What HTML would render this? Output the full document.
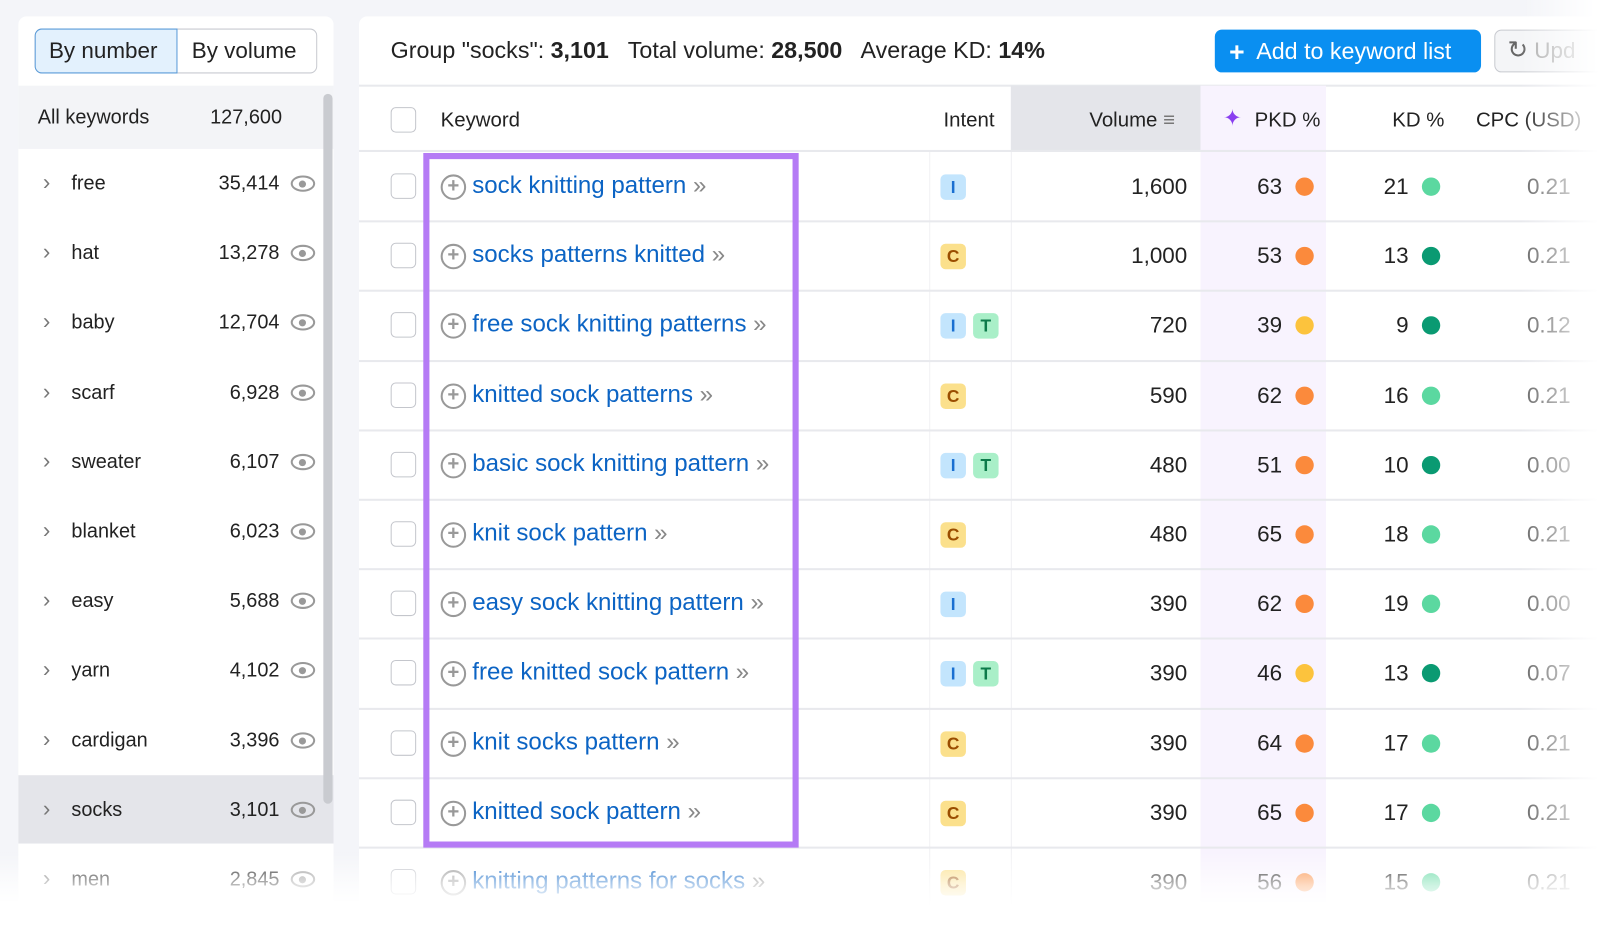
<!DOCTYPE html>
<html><head><meta charset="utf-8"><style>
*{box-sizing:border-box;margin:0;padding:0}
body{width:1600px;height:913px;overflow:hidden;background:#f4f5f9;font-family:"Liberation Sans",sans-serif;color:#222;position:relative}
#w{position:absolute;left:0;top:0;width:1570px;height:900px;transform:scale(1.02);transform-origin:0 0}
.a{position:absolute;white-space:nowrap}
.left{position:absolute;left:18px;top:16px;width:309px;height:900px;background:#fff;border-radius:8px}
.main{position:absolute;left:352px;top:16px;width:1300px;height:900px;background:#fff;border-radius:8px}
.t{font-size:20px;line-height:24px}
.chev{color:#777;font-size:22px}
.eye{width:24px;height:16px;border:2.5px solid #999;border-radius:50%;}
.eye:after{content:"";position:absolute;left:6px;top:3px;width:7px;height:7px;border-radius:50%;background:#999}
.cb{width:25px;height:25px;border:1.5px solid #c4c6cc;border-radius:5px;background:#fff}
.plus{width:25px;height:25px;border:2.5px solid #999;border-radius:50%;color:#999;font-size:20px;line-height:19px;text-align:center;font-weight:bold}
.kw{color:#0c64c4;font-size:23.6px;line-height:26px}
.badge{width:25px;height:25px;border-radius:5px;font-size:17px;font-weight:bold;text-align:center;line-height:25px}
.bi{background:#c3e5fd;color:#1a6fd1}
.bc{background:#fbe08c;color:#9a4d00}
.bt{background:#a9efc8;color:#0d7a4a}
.dot{width:18px;height:18px;border-radius:50%}
.hl{position:absolute;left:352px;width:1250px;height:2px;background:#e8e9ed}
.n{font-size:22px;line-height:24px}
</style></head><body><div id="w">
<div class="left"></div>
<div class="main"></div>
<div class="a" style="left:34px;top:28px;width:277px;height:44px;border:1.5px solid #c8cad0;border-radius:7px;background:#fff"></div>
<div class="a" style="left:34px;top:28px;width:140px;height:44px;border:1.5px solid #5a9bd8;border-radius:7px 0 0 7px;background:#e3f1fd"></div>
<div class="a t" style="left:48px;top:38px;font-size:22px">By number</div>
<div class="a t" style="left:188px;top:38px;font-size:22px">By volume</div>
<div class="a" style="left:18px;top:84px;width:309px;height:62px;background:#f3f4f7"></div>
<div class="a t" style="left:37px;top:103px;font-size:19.5px">All keywords</div>
<div class="a t" style="left:206px;top:103px;font-size:19.5px">127,600</div>
<div class="a" style="left:18px;top:760px;width:309px;height:67px;background:#e4e5ea"></div>
<div class="a" style="left:317px;top:92px;width:9px;height:696px;border-radius:5px;background:#c9cbd0"></div>

<div class="a t" style="left:383px;top:37px;font-size:22.8px">Group "socks": <b>3,101</b> &nbsp; Total volume: <b>28,500</b> &nbsp; Average KD: <b>14%</b></div>
<div class="a" style="left:1191px;top:29px;width:261px;height:42px;background:#0a8ff1;border-radius:7px;color:#fff;font-size:22.8px;line-height:42px;padding-left:14px"><span style="font-size:26px;font-weight:bold;vertical-align:-2px">+</span>&nbsp; Add to keyword list</div>
<div class="a" style="left:1465px;top:29px;width:120px;height:42px;border:1.5px solid #c8cad0;background:#f4f5f7;border-radius:7px;color:#aaa;font-size:22px;line-height:40px;padding-left:12px"><span style="color:#666;font-size:24px">↻</span> Upd</div>
<div class="hl" style="top:83px"></div>
<div class="a" style="left:991px;top:84px;width:186px;height:64px;background:#e4e5ea"></div>
<div class="a" style="left:1177px;top:84px;width:123px;height:800px;background:#f8f3fe"></div>
<div class="a" style="left:911px;top:148px;width:1px;height:740px;background:#f0f0f3"></div>
<div class="a" style="left:991px;top:148px;width:1px;height:740px;background:#f0f0f3"></div>
<div class="a cb" style="left:383px;top:105px"></div>
<div class="a t" style="left:432px;top:106px;font-size:20px">Keyword</div>
<div class="a t" style="left:925px;top:106px;font-size:20px">Intent</div>
<div class="a t" style="left:1068px;top:106px;font-size:20px">Volume <span style="color:#777;font-weight:bold">≡</span></div>
<div class="a t" style="left:1199px;top:104px;font-size:22px;color:#8a3ff0">✦</div>
<div class="a t" style="left:1230px;top:106px;font-size:20px">PKD %</div>
<div class="a t" style="left:1365px;top:106px;font-size:20px">KD %</div>
<div class="a t" style="left:1447px;top:106px;font-size:20px">CPC (USD)</div>
<div class="hl" style="top:147px"></div>

<div id="rows"></div>
<div class="a" style="left:415px;top:150px;width:368px;height:681px;border:6px solid #b57bf5"></div>
<div class="a" style="left:1490px;top:0;width:110px;height:913px;background:linear-gradient(to right,rgba(255,255,255,0),#fff 70%)"></div>
<div class="a" style="left:0;top:835px;width:1600px;height:83px;background:linear-gradient(to bottom,rgba(255,255,255,0),rgba(255,255,255,.7) 40%,#fff 65%)"></div>
</div>
<script>
const L=[["free","35,414"],["hat","13,278"],["baby","12,704"],["scarf","6,928"],["sweater","6,107"],["blanket","6,023"],["easy","5,688"],["yarn","4,102"],["cardigan","3,396"],["socks","3,101"],["men","2,845"]];
const R=[["sock knitting pattern","I","1,600",63,"#fb8a3c",21,"#5bd8a0","0.21"],
["socks patterns knitted","C","1,000",53,"#fb8a3c",13,"#0a9a72","0.21"],
["free sock knitting patterns","IT","720",39,"#fcc33d",9,"#0a9a72","0.12"],
["knitted sock patterns","C","590",62,"#fb8a3c",16,"#5bd8a0","0.21"],
["basic sock knitting pattern","IT","480",51,"#fb8a3c",10,"#0a9a72","0.00"],
["knit sock pattern","C","480",65,"#fb8a3c",18,"#5bd8a0","0.21"],
["easy sock knitting pattern","I","390",62,"#fb8a3c",19,"#5bd8a0","0.00"],
["free knitted sock pattern","IT","390",46,"#fcc33d",13,"#0a9a72","0.07"],
["knit socks pattern","C","390",64,"#fb8a3c",17,"#5bd8a0","0.21"],
["knitted sock pattern","C","390",65,"#fb8a3c",17,"#5bd8a0","0.21"],
["knitting patterns for socks","C","390",56,"#fb8a3c",15,"#5bd8a0","0.21"]];
let h="";
L.forEach((l,i)=>{const y=180+i*68.2;
h+=`<div class="a chev" style="left:42px;top:${y-14}px">&#x203A;</div><div class="a t" style="left:70px;top:${y-12}px;font-size:19.5px">${l[0]}</div><div class="a t" style="left:150px;width:124px;text-align:right;top:${y-12}px;font-size:19.5px">${l[1]}</div><div class="a eye" style="left:285px;top:${y-8}px"></div>`;});
R.forEach((r,i)=>{const y=183+i*68.2;
if(i>0)h+=`<div class="hl" style="top:${y-35}px"></div>`;
h+=`<div class="a cb" style="left:383px;top:${y-13}px"></div><div class="a plus" style="left:432px;top:${y-12}px">+</div><div class="a kw" style="left:463px;top:${y-14}px">${r[0]} <span style="color:#888">»</span></div>`;
[...r[1]].forEach((b,j)=>{h+=`<div class="a badge b${b.toLowerCase()}" style="left:${922+j*32}px;top:${y-12}px">${b}</div>`});
h+=`<div class="a n" style="left:1000px;width:164px;text-align:right;top:${y-12}px">${r[2]}</div>`;
h+=`<div class="a n" style="left:1200px;width:57px;text-align:right;top:${y-12}px">${r[3]}</div><div class="a dot" style="left:1270px;top:${y-9}px;background:${r[4]}"></div>`;
h+=`<div class="a n" style="left:1320px;width:61px;text-align:right;top:${y-12}px">${r[5]}</div><div class="a dot" style="left:1394px;top:${y-9}px;background:${r[6]}"></div>`;
h+=`<div class="a n" style="left:1497px;top:${y-12}px;color:#666">${r[7]}</div>`;});
document.getElementById("rows").innerHTML=h;
</script>
</body></html>
